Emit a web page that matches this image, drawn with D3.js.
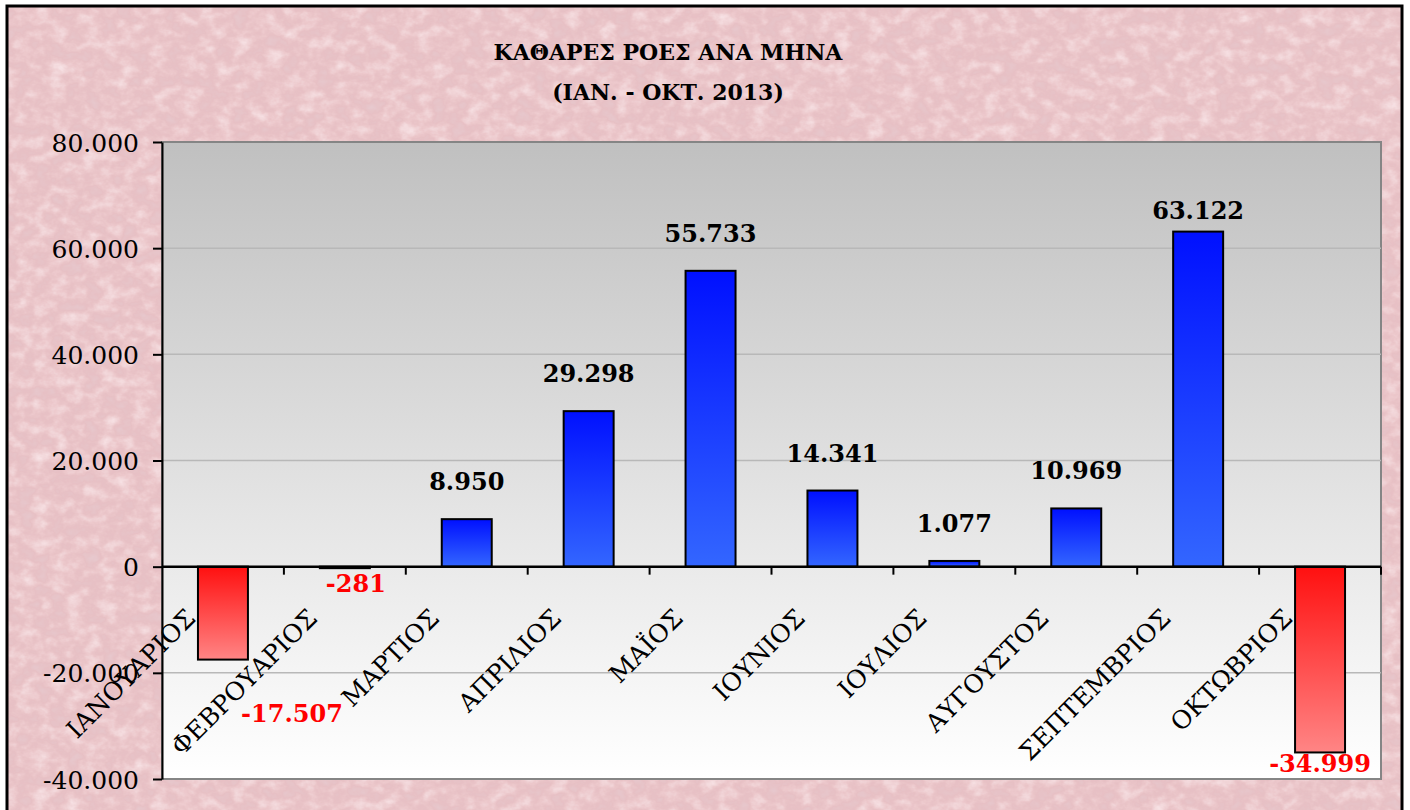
<!doctype html>
<html>
<head>
<meta charset="UTF-8" />
<title>Καθαρές ροές ανά μήνα</title>
<script src="https://d3js.org/d3.v7.min.js"></script>
<style type="text/css">
body {
	margin: 0;
	background: #fff;
}

.axis text {
	font-family: "DejaVu Serif", serif;
	fill: #000;
}

.y.axis .domain {
	stroke: #000;
	stroke-width: 2px;
}

.y.axis .tick line {
	stroke: #000;
	stroke-width: 2px;
}

.grid line {
	stroke: #b8b8b8;
	stroke-width: 1.5px;
}

.bar {
	stroke: #000;
	stroke-width: 2px;
}

.value {
	font-family: "DejaVu Serif", serif;
	font-weight: bold;
	font-size: 24px;
	text-anchor: middle;
}

.title {
	font-family: "DejaVu Serif", serif;
	font-weight: bold;
	font-size: 22px;
	text-anchor: middle;
}
</style>
</head>
<body>
<script>
	// data
	var months = ["ΙΑΝΟΥΑΡΙΟΣ", "ΦΕΒΡΟΥΑΡΙΟΣ", "ΜΑΡΤΙΟΣ", "ΑΠΡΙΛΙΟΣ", "ΜΑΪΟΣ",
		"ΙΟΥΝΙΟΣ", "ΙΟΥΛΙΟΣ", "ΑΥΓΟΥΣΤΟΣ", "ΣΕΠΤΕΜΒΡΙΟΣ", "ΟΚΤΩΒΡΙΟΣ"];
	var netFlows = [-17507, -281, 8950, 29298, 55733, 14341, 1077, 10969, 63122, -34999];
	var yTicks = [-40000, -20000, 0, 20000, 40000, 60000, 80000];
	var titleLines = ["ΚΑΘΑΡΕΣ ΡΟΕΣ ΑΝΑ ΜΗΝΑ", "(ΙΑΝ. - ΟΚΤ. 2013)"];

	var W = 1410, H = 810;
	var plot = {left: 162, right: 1381, top: 142, bottom: 779};

	var locale = d3.formatLocale({decimal: ",", thousands: ".", grouping: [3], currency: ["", "€"], minus: "-"});
	var fmt = locale.format(",d");

	// hand placed labels, as in the original sheet
	var labelNudge = {0: [69, 40], 1: [11, 2], 9: [0, -2], 8: [0, 16]};

	var x = d3.scaleBand()
		.domain(months)
		.range([plot.left, plot.right])
		.paddingInner(0.59)
		.paddingOuter(0.295);

	var band = d3.scaleBand()
		.domain(months)
		.range([plot.left, plot.right]);

	var y = d3.scaleLinear()
		.domain([-40000, 80000])
		.range([plot.bottom, plot.top]);

	var svg = d3.select("body").append("svg")
		.attr("width", W)
		.attr("height", H);

	var defs = svg.append("defs");

	// pink marble paper
	var bgFilter = defs.append("filter")
		.attr("id", "marble")
		.attr("x", 0).attr("y", 0).attr("width", 1).attr("height", 1);
	bgFilter.append("feTurbulence")
		.attr("type", "fractalNoise")
		.attr("baseFrequency", "0.06 0.08")
		.attr("numOctaves", 4)
		.attr("seed", 3)
		.attr("result", "noise");
	bgFilter.append("feColorMatrix")
		.attr("in", "noise")
		.attr("type", "matrix")
		.attr("values", "0 0 0 0 0.97  0 0 0 0 0.84  0 0 0 0 0.86  0 0 0 -1.4 0.85")
		.attr("result", "light");
	bgFilter.append("feColorMatrix")
		.attr("in", "noise")
		.attr("type", "matrix")
		.attr("values", "0 0 0 0 0.80  0 0 0 0 0.62  0 0 0 0 0.66  0 0 0 1.3 -0.55")
		.attr("result", "dark");
	bgFilter.append("feMerge").call(function(m) {
		m.append("feMergeNode").attr("in", "SourceGraphic");
		m.append("feMergeNode").attr("in", "light");
		m.append("feMergeNode").attr("in", "dark");
	});

	var plotGrad = defs.append("linearGradient")
		.attr("id", "plotGrad")
		.attr("x1", 0).attr("y1", 0).attr("x2", 0).attr("y2", 1);
	plotGrad.append("stop").attr("offset", "0%").attr("stop-color", "#c0c0c0");
	plotGrad.append("stop").attr("offset", "100%").attr("stop-color", "#ffffff");

	var blueGrad = defs.append("linearGradient")
		.attr("id", "blueGrad")
		.attr("x1", 0).attr("y1", 0).attr("x2", 0).attr("y2", 1);
	blueGrad.append("stop").attr("offset", "0%").attr("stop-color", "#0010ff");
	blueGrad.append("stop").attr("offset", "100%").attr("stop-color", "#3366ff");

	var redGrad = defs.append("linearGradient")
		.attr("id", "redGrad")
		.attr("x1", 0).attr("y1", 0).attr("x2", 0).attr("y2", 1);
	redGrad.append("stop").attr("offset", "0%").attr("stop-color", "#ff1010");
	redGrad.append("stop").attr("offset", "100%").attr("stop-color", "#ff8585");

	// chart area
	svg.append("rect")
		.attr("x", 7).attr("y", 6)
		.attr("width", 1395).attr("height", 820)
		.attr("fill", "#e7bbbf")
		.attr("filter", "url(#marble)");
	svg.append("rect")
		.attr("x", 7).attr("y", 6)
		.attr("width", 1395).attr("height", 820)
		.attr("fill", "none")
		.attr("stroke", "#000")
		.attr("stroke-width", 3);

	svg.selectAll("text.title")
		.data(titleLines)
		.enter().append("text")
		.attr("class", "title")
		.attr("x", 668)
		.attr("y", function(d, i) { return 60 + i * 40; })
		.text(function(d) { return d; });

	// plot area
	svg.append("rect")
		.attr("x", plot.left).attr("y", plot.top)
		.attr("width", plot.right - plot.left)
		.attr("height", plot.bottom - plot.top)
		.attr("fill", "url(#plotGrad)")
		.attr("stroke", "#858585")
		.attr("stroke-width", 2);

	svg.append("g")
		.attr("class", "grid")
		.selectAll("line")
		.data(yTicks.filter(function(d) { return d !== 0 && d !== 80000 && d !== -40000; }))
		.enter().append("line")
		.attr("x1", plot.left).attr("x2", plot.right)
		.attr("y1", function(d) { return y(d); })
		.attr("y2", function(d) { return y(d); });

	// bars
	svg.selectAll("rect.bar")
		.data(netFlows)
		.enter().append("rect")
		.attr("class", "bar")
		.attr("x", function(d, i) { return x(months[i]); })
		.attr("width", x.bandwidth())
		.attr("y", function(d) { return y(Math.max(0, d)); })
		.attr("height", function(d) { return Math.abs(y(d) - y(0)); })
		.attr("fill", function(d) { return d < 0 ? "url(#redGrad)" : "url(#blueGrad)"; });

	// y axis
	var yAxis = d3.axisLeft(y)
		.tickValues(yTicks)
		.tickSize(9)
		.tickSizeOuter(0)
		.tickPadding(14)
		.tickFormat(function(d) { return fmt(d); });

	var yG = svg.append("g")
		.attr("class", "y axis")
		.attr("transform", "translate(" + plot.left + ",0)")
		.call(yAxis);
	yG.selectAll("text").style("font-size", "25px").attr("dy", "0.36em");

	// zero line with ticks at the category borders
	var xG = svg.append("g").attr("class", "x axis");
	xG.append("line")
		.attr("x1", plot.left).attr("x2", plot.right)
		.attr("y1", y(0)).attr("y2", y(0))
		.attr("stroke", "#000").attr("stroke-width", 2.5);
	xG.selectAll("line.tk")
		.data(months.slice(1).concat(["end"]))
		.enter().append("line")
		.attr("class", "tk")
		.attr("x1", function(d, i) { return i < months.length - 1 ? band(d) : plot.right; })
		.attr("x2", function(d, i) { return i < months.length - 1 ? band(d) : plot.right; })
		.attr("y1", y(0)).attr("y2", y(0) + 8)
		.attr("stroke", "#000").attr("stroke-width", 2);

	xG.selectAll("text")
		.data(months)
		.enter().append("text")
		.attr("transform", function(d) {
			return "translate(" + (band(d) + band.bandwidth() / 2 - 26) + "," + (y(0) + 53) + ") rotate(-45)";
		})
		.style("text-anchor", "end")
		.style("font-size", "25px")
		.text(function(d) { return d; });

	// value labels
	svg.selectAll("text.value")
		.data(netFlows)
		.enter().append("text")
		.attr("class", "value")
		.attr("fill", function(d) { return d < 0 ? "#ff0000" : "#000"; })
		.attr("x", function(d, i) {
			var n = labelNudge[i] || [0, 0];
			return band(months[i]) + band.bandwidth() / 2 + n[0];
		})
		.attr("y", function(d, i) {
			var n = labelNudge[i] || [0, 0];
			return (d < 0 ? y(d) + 22 : y(d) - 29) + n[1];
		})
		.text(function(d) { return fmt(d); });
</script>
</body>
</html>
